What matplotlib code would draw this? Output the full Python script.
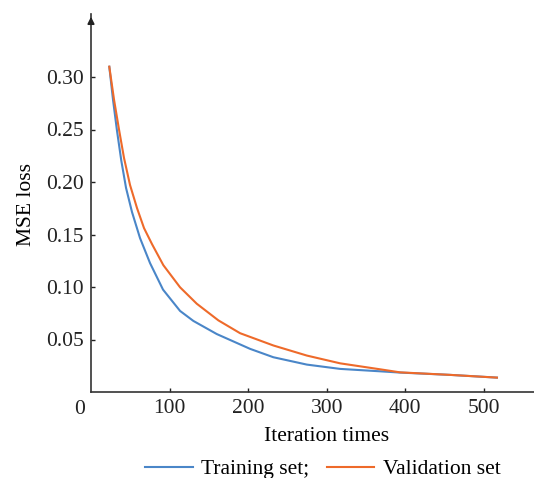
import matplotlib
matplotlib.use("Agg")
import matplotlib.pyplot as plt

# values
train_iter = [23.3, 28.0, 33.1, 38.6, 44.6, 52.2, 62.4, 75.2, 91.7, 113.4, 130.3, 160.1,
              202.5, 232.2, 274.8, 317.2, 368.2, 393.6, 457.3, 516.8]
train_loss = [0.3098, 0.2785, 0.2488, 0.2202, 0.1944, 0.1714, 0.1466, 0.1227, 0.0975, 0.0772,
              0.0677, 0.0552, 0.0411, 0.0331, 0.0261, 0.0220, 0.0197, 0.0185, 0.0163, 0.0137]
val_iter = [23.3, 29.3, 35.7, 42.0, 49.7, 58.6, 67.5, 77.7, 92.1, 113.4, 134.6, 162.2,
            189.8, 232.2, 274.8, 317.2, 368.2, 393.6, 457.3, 516.8]
val_loss = [0.3098, 0.2785, 0.2498, 0.2230, 0.1971, 0.1751, 0.1561, 0.1408, 0.1208, 0.0997,
            0.0841, 0.0682, 0.0560, 0.0443, 0.0347, 0.0273, 0.0216, 0.0187, 0.0163, 0.0137]
xticks = [100, 200, 300, 400, 500]
yticks = [0.05, 0.10, 0.15, 0.20, 0.25, 0.30]

plt.rcParams["font.family"] = ["Liberation Serif", "DejaVu Serif"]
FS = 15.5
W, H = 534, 478
fig = plt.figure(figsize=(W / 100, H / 100), dpi=100)
ax = fig.add_axes([91 / W, 1 - 392 / H, 1 - 91 / W, (392 - 14) / H])

blue, orange = "#4a86c8", "#ee6a2a"
ax.plot(train_iter, train_loss, color=blue, lw=1.5, label="Training set;")
ax.plot(val_iter, val_loss, color=orange, lw=1.5, label="Validation set")

ax.set_xlim(0, 564)
ax.set_ylim(0, 0.36)
ax.set_xticks(xticks)
ax.set_yticks(yticks)
ax.set_yticklabels([f"{v:.2f}" for v in yticks])
ax.tick_params(direction="in", length=3, width=1, labelsize=FS, colors="#222222", pad=5)
for s in ["top", "right"]:
    ax.spines[s].set_visible(False)
for s in ["left", "bottom"]:
    ax.spines[s].set_color("#333333")
    ax.spines[s].set_linewidth(1.2)

# arrow on the y axis
ax.annotate("", xy=(0, 1.0), xytext=(0, 0.97), xycoords="axes fraction",
            arrowprops=dict(arrowstyle="-|>", color="#222222", lw=1.2, mutation_scale=10))
ax.text(-0.025, -0.045, "0", transform=ax.transAxes, ha="center", va="center", fontsize=FS, color="#222222")

ax.set_xlabel("Iteration times", fontsize=FS)
ax.set_ylabel("MSE loss", fontsize=FS)
ax.xaxis.set_label_coords((327 - 91) / (W - 91), -(427 - 392) / (392 - 14))
ax.yaxis.set_label_coords(-(91 - 36) / (W - 91), (392 - 205) / (392 - 14))

fig.legend(loc="center", bbox_to_anchor=(323 / W, 1 - 469 / H), ncol=2, frameon=False,
           fontsize=FS, handlelength=2.2, handletextpad=0.4, columnspacing=0.8)

plt.savefig("out.png", dpi=100)
